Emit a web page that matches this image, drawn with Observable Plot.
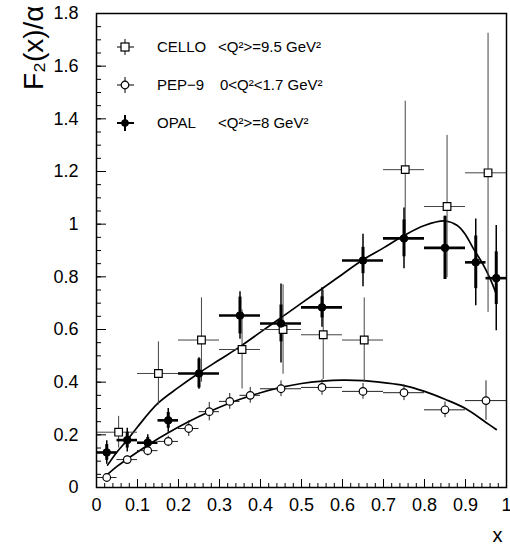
<!DOCTYPE html>
<html>
<head>
<meta charset="utf-8">
<script src="https://cdn.jsdelivr.net/npm/d3@7"></script>
<script src="https://cdn.jsdelivr.net/npm/@observablehq/plot@0.6"></script>
<style>
  html, body { margin: 0; padding: 0; background: white; }
  #chart { position: relative; width: 510px; height: 550px; }
</style>
</head>
<body>
<div id="chart"></div>
<script>
// ---- CELLO <Q²>=9.5 GeV² (open squares)
const celloX    = [0.054, 0.151, 0.256, 0.355, 0.455, 0.553, 0.653, 0.753, 0.855, 0.955];
const celloY    = [0.21, 0.433, 0.56, 0.524, 0.60, 0.58, 0.56, 1.207, 1.067, 1.195];
const celloErr  = [0.06, 0.12, 0.16, 0.15, 0.17, 0.17, 0.16, 0.26, 0.27, 0.53];
const celloXlo  = [0.0, 0.1, 0.2, 0.3, 0.4, 0.5, 0.6, 0.7, 0.8, 0.9];
const celloXhi  = [0.1, 0.2, 0.3, 0.4, 0.5, 0.6, 0.7, 0.8, 0.9, 1.0];

// ---- PEP-9 0<Q²<1.7 GeV² (open circles)
const pepX   = [0.025, 0.075, 0.125, 0.175, 0.225, 0.275, 0.325, 0.375, 0.45, 0.55, 0.65, 0.75, 0.85, 0.95];
const pepY   = [0.038, 0.106, 0.14, 0.175, 0.224, 0.288, 0.327, 0.35, 0.375, 0.38, 0.365, 0.36, 0.295, 0.33];
const pepErr = [0.01, 0.015, 0.02, 0.02, 0.03, 0.035, 0.03, 0.03, 0.03, 0.03, 0.03, 0.03, 0.03, 0.075];
const pepXlo = [0.0, 0.05, 0.1, 0.15, 0.2, 0.25, 0.3, 0.35, 0.4, 0.5, 0.6, 0.7, 0.8, 0.9];
const pepXhi = [0.05, 0.1, 0.15, 0.2, 0.25, 0.3, 0.35, 0.4, 0.5, 0.6, 0.7, 0.8, 0.9, 1.0];

// ---- OPAL <Q²>=8 GeV² (filled points, stat = thick, total = thin)
const opalX    = [0.025, 0.075, 0.125, 0.175, 0.25, 0.35, 0.45, 0.55, 0.65, 0.75, 0.85, 0.925, 0.975];
const opalY    = [0.133, 0.18, 0.17, 0.255, 0.433, 0.653, 0.623, 0.684, 0.862, 0.946, 0.91, 0.855, 0.795];
const opalStat = [0.03, 0.03, 0.02, 0.03, 0.055, 0.07, 0.07, 0.04, 0.05, 0.07, 0.12, 0.10, 0.10];
const opalTot  = [0.045, 0.045, 0.03, 0.045, 0.06, 0.09, 0.15, 0.075, 0.10, 0.115, 0.12, 0.165, 0.20];
const opalXlo  = [0.0, 0.05, 0.1, 0.15, 0.2, 0.3, 0.4, 0.5, 0.6, 0.7, 0.8, 0.9, 0.95];
const opalXhi  = [0.05, 0.1, 0.15, 0.2, 0.3, 0.4, 0.5, 0.6, 0.7, 0.8, 0.9, 0.95, 1.0];

// ---- model curves
const upperCurveX = [0.027, 0.05, 0.075, 0.1, 0.15, 0.2, 0.25, 0.3, 0.35, 0.4, 0.45, 0.5, 0.55, 0.6, 0.65, 0.7, 0.75, 0.8, 0.85, 0.88, 0.9, 0.92, 0.94, 0.955, 0.965, 0.975];
const upperCurveY = [0.085, 0.135, 0.18, 0.23, 0.32, 0.38, 0.435, 0.485, 0.535, 0.59, 0.645, 0.70, 0.755, 0.81, 0.865, 0.91, 0.957, 0.995, 1.012, 0.995, 0.96, 0.905, 0.855, 0.81, 0.775, 0.735];
const lowerCurveX = [0.02, 0.05, 0.1, 0.15, 0.2, 0.25, 0.3, 0.35, 0.4, 0.45, 0.5, 0.55, 0.6, 0.65, 0.7, 0.75, 0.8, 0.85, 0.9, 0.95, 0.975];
const lowerCurveY = [0.04, 0.08, 0.135, 0.185, 0.23, 0.27, 0.305, 0.335, 0.36, 0.38, 0.395, 0.404, 0.408, 0.406, 0.398, 0.387, 0.365, 0.335, 0.30, 0.247, 0.22];

// ---- ticks
const xMajor = [0, 0.1, 0.2, 0.3, 0.4, 0.5, 0.6, 0.7, 0.8, 0.9, 1];
const xMinor = d3.range(0, 51).map(i => i / 50);
const yMajor = [0, 0.2, 0.4, 0.6, 0.8, 1, 1.2, 1.4, 1.6, 1.8];
const yMinor = d3.range(0, 37).map(i => i / 20);

const legendLabels = [["CELLO", "<Q²>=9.5 GeV²"], ["PEP−9", "0<Q²<1.7 GeV²"], ["OPAL", "<Q²>=8 GeV²"]];

// ---- tables
const cello = celloX.map((x, i) => ({x, y: celloY[i], lo: celloY[i] - celloErr[i], hi: celloY[i] + celloErr[i], x1: celloXlo[i], x2: celloXhi[i]}));
const pep = pepX.map((x, i) => ({x, y: pepY[i], lo: pepY[i] - pepErr[i], hi: pepY[i] + pepErr[i], x1: pepXlo[i], x2: pepXhi[i]}));
const opal = opalX.map((x, i) => ({x, y: opalY[i], slo: opalY[i] - opalStat[i], shi: opalY[i] + opalStat[i], tlo: opalY[i] - opalTot[i], thi: opalY[i] + opalTot[i], x1: opalXlo[i], x2: opalXhi[i]}));
const upper = upperCurveX.map((x, i) => ({x, y: upperCurveY[i]}));
const lower = lowerCurveX.map((x, i) => ({x, y: lowerCurveY[i]}));

const fmt = d => String(+d.toFixed(1));
const font = "'Liberation Sans', Arial, Helvetica, sans-serif";

const chart = Plot.plot({
  width: 510,
  height: 550,
  marginTop: 13,
  marginBottom: 63,
  marginLeft: 96,
  marginRight: 4,
  style: {fontFamily: font, fontSize: "18px", color: "black", background: "white", overflow: "visible"},
  x: {domain: [0, 1], label: null},
  y: {domain: [0, 1.8], label: null},
  marks: [
    // tick marks (inward)
    Plot.axisX(xMinor, {tickSize: -4, tickFormat: () => "", label: null, strokeWidth: 1}),
    Plot.axisX(xMajor, {tickSize: -8, tickFormat: () => "", label: null, strokeWidth: 1}),
    Plot.axisY(yMinor, {tickSize: -5, tickFormat: () => "", label: null, strokeWidth: 1}),
    Plot.axisY(yMajor, {tickSize: -10, tickFormat: () => "", label: null, strokeWidth: 1}),
    // tick labels
    Plot.axisX(xMajor, {tickSize: 0, tickPadding: 11, tickFormat: fmt, label: null, fontSize: 18}),
    Plot.axisY(yMajor, {tickSize: 0, tickPadding: 18, tickFormat: fmt, label: null, fontSize: 18}),
    Plot.text(["x"], {frameAnchor: "bottom-right", dx: -4, dy: 54, fontSize: 20, textAnchor: "end"}),
    Plot.text(["F₂(x)/α"], {frameAnchor: "top-left", rotate: -90, textAnchor: "end", dx: -73, dy: -8, fontSize: 28, style: "letter-spacing:2px"}),
    // curves
    Plot.line(upper, {x: "x", y: "y", curve: "catmull-rom", stroke: "black", strokeWidth: 1.7}),
    Plot.line(lower, {x: "x", y: "y", curve: "catmull-rom", stroke: "black", strokeWidth: 1.7}),
    // CELLO error bars
    Plot.ruleX(cello, {x: "x", y1: "lo", y2: "hi", stroke: "#444", strokeWidth: 1}),
    Plot.ruleY(cello, {y: "y", x1: "x1", x2: "x2", stroke: "#444", strokeWidth: 1}),
    // PEP error bars
    Plot.ruleX(pep, {x: "x", y1: "lo", y2: "hi", stroke: "#222", strokeWidth: 1}),
    Plot.ruleY(pep, {y: "y", x1: "x1", x2: "x2", stroke: "#222", strokeWidth: 1}),
    // OPAL error bars
    Plot.ruleX(opal, {x: "x", y1: "tlo", y2: "thi", stroke: "black", strokeWidth: 1.5}),
    Plot.ruleX(opal, {x: "x", y1: "slo", y2: "shi", stroke: "black", strokeWidth: 3}),
    Plot.ruleY(opal, {y: "y", x1: "x1", x2: "x2", stroke: "black", strokeWidth: 2.6}),
    // markers
    Plot.dot(cello, {x: "x", y: "y", symbol: "square", r: 4.3, fill: "white", stroke: "black", strokeWidth: 1.2}),
    Plot.dot(pep, {x: "x", y: "y", symbol: "circle", r: 3.8, fill: "white", stroke: "black", strokeWidth: 1.2}),
    Plot.dot(opal, {x: "x", y: "y", symbol: "circle", r: 3.8, fill: "black", stroke: "black", strokeWidth: 1}),
    Plot.frame({stroke: "black", strokeWidth: 1.5})
  ]
});

document.getElementById("chart").appendChild(chart);

// ---- legend (inside the plot area)
const svg = d3.select(chart);
const leg = svg.append("g")
  .style("font-family", font).style("font-size", "15px").style("text-anchor", "start");
const rowsY = [47, 85, 123];
const symbols = ["square", "circle", "filled"];
rowsY.forEach((yy, i) => {
  const g = leg.append("g").attr("transform", `translate(125,${yy})`);
  g.append("line").attr("x1", -8).attr("x2", 9).attr("y1", 0).attr("y2", 0)
    .attr("stroke", "black").attr("stroke-width", i === 2 ? 2 : 1);
  g.append("line").attr("x1", 0).attr("x2", 0).attr("y1", -8).attr("y2", 8)
    .attr("stroke", "black").attr("stroke-width", i === 2 ? 2 : 1);
  if (symbols[i] === "square") {
    g.append("rect").attr("x", -4).attr("y", -4).attr("width", 8).attr("height", 8)
      .attr("fill", "white").attr("stroke", "black").attr("stroke-width", 1.2);
  } else if (symbols[i] === "circle") {
    g.append("circle").attr("r", 3.8).attr("fill", "white").attr("stroke", "black").attr("stroke-width", 1.2);
  } else {
    g.append("circle").attr("r", 3.8).attr("fill", "black");
  }
  leg.append("text").attr("x", 157).attr("y", yy).attr("dy", "0.35em").text(legendLabels[i][0]);
  leg.append("text").attr("x", i === 1 ? 220 : 218).attr("y", yy).attr("dy", "0.35em").text(legendLabels[i][1]);
});
</script>
</body>
</html>
